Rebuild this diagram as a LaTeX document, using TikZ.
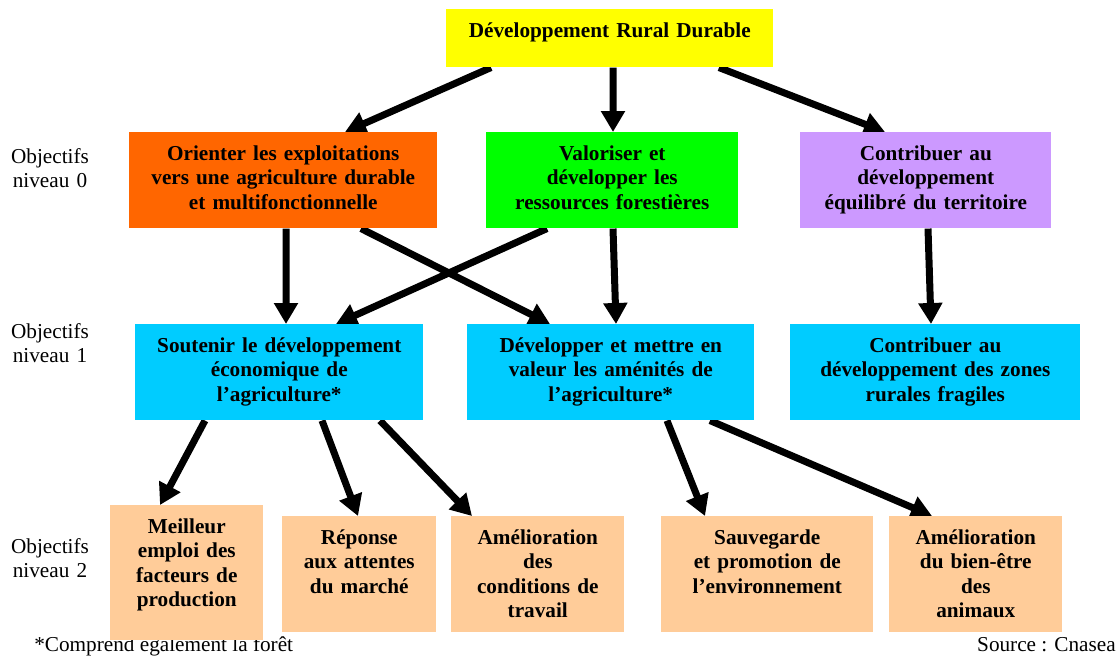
\documentclass[tikz,border=0pt]{standalone}
\usepackage{fontspec}
\setmainfont{Liberation Serif}
\usepackage{xcolor}
\usepackage{tikz}
\usetikzlibrary{arrows.meta, positioning, backgrounds}

\definecolor{cjaune}{HTML}{FFFF00}
\definecolor{corange}{HTML}{FF6600}
\definecolor{cvert}{HTML}{00FF00}
\definecolor{cviolet}{HTML}{CC99FF}
\definecolor{cbleu}{HTML}{00CCFF}
\definecolor{cpeche}{HTML}{FFCC99}

\tikzset{
  objbox/.style={inner sep=0pt, align=center, text height=0.7cm,
    font=\fontsize{15.1}{17.4}\selectfont\bfseries},
  niveau/.style={inner sep=0pt, align=center, text width=2.5cm,
    font=\fontsize{15.1}{17.4}\selectfont},
  fleche/.style={-{Triangle[length=0.525cm,width=0.575cm]}, line width=0.175cm},
}

\begin{document}
\begin{tikzpicture}

\useasboundingbox (0,0) rectangle (27.925,-16.45);
\coordinate(O1) at (0,0);

\node[niveau, anchor=base] (n0) at (1.25,-4.075) {Objectifs\\niveau 0};
\node[niveau, anchor=base] (n1) at (1.25,-8.45) {Objectifs\\niveau 1};
\node[niveau, anchor=base] (n2) at (1.25,-13.825) {Objectifs\\niveau 2};

\node[anchor=base west, inner sep=0pt, font=\fontsize{15.1}{17.4}\selectfont] (note) at (0.85,-16.275) {*Comprend également la forêt};
\node[anchor=base east, inner sep=0pt, font=\fontsize{15.1}{17.4}\selectfont] (source) at (27.9,-16.275) {Source : Cnasea};

\node[objbox, below right=0.225cm and 11.15cm of O1, fill=cjaune, text width=8.175cm, text depth=0.75cm](dev) {Développement Rural Durable};

\node[objbox, below right=3.3cm and 3.225cm of O1, fill=corange, text width=7.7cm, text depth=1.7cm](orient) {Orienter les exploitations\\vers une agriculture durable\\et multifonctionnelle};
\node[objbox, below right=3.3cm and 12.15cm of O1, fill=cvert, text width=6.3cm, text depth=1.7cm](valor) {Valoriser et\\développer les\\ressources forestières};
\node[objbox, below right=3.3cm and 20cm of O1, fill=cviolet, text width=6.275cm, text depth=1.7cm](contrib) {Contribuer au\\développement\\équilibré du territoire};

\node[objbox, below right=8.1cm and 3.375cm of O1, fill=cbleu, text width=7.2cm, text depth=1.7cm](sout) {Soutenir le développement\\économique de\\l’agriculture*};
\node[objbox, below right=8.1cm and 11.675cm of O1, fill=cbleu, text width=7.175cm, text depth=1.7cm](valeur) {Développer et mettre en\\valeur les aménités de\\l’agriculture*};
\node[objbox, below right=8.1cm and 19.75cm of O1, fill=cbleu, text width=7.25cm, text depth=1.7cm](zones) {Contribuer au\\développement des zones\\rurales fragiles};

\node[objbox, below right=12.625cm and 2.75cm of O1, fill=cpeche, text width=3.825cm, text depth=2.675cm](meil) {Meilleur\\emploi des\\facteurs de\\production};
\node[objbox, below right=12.9cm and 7.05cm of O1, fill=cpeche, text width=3.85cm, text depth=2.2cm](rep) {Réponse\\aux attentes\\du marché};
\node[objbox, below right=12.9cm and 11.275cm of O1, fill=cpeche, text width=4.325cm, text depth=2.2cm](amel) {Amélioration\\des\\conditions de\\travail};
\node[objbox, below right=12.9cm and 16.525cm of O1, fill=cpeche, text width=5.3cm, text depth=2.2cm](sauv) {Sauvegarde\\et promotion de\\l’environnement};
\node[objbox, below right=12.9cm and 22.225cm of O1, fill=cpeche, text width=4.325cm, text depth=2.2cm](bien) {Amélioration\\du bien-être\\des\\animaux};

\begin{scope}[on background layer]
\draw[fleche] ([xshift=1.125cm]dev.south west) -- ([xshift=5.4cm]orient.north west);
\draw[fleche] ([xshift=4.175cm]dev.south west) -- ([xshift=3.175cm]valor.north west);
\draw[fleche] ([xshift=6.825cm]dev.south west) -- ([xshift=2.125cm]contrib.north west);
\draw[fleche] ([xshift=3.925cm]orient.south west) -- ([xshift=3.775cm]sout.north west);
\draw[fleche] ([xshift=5.8cm]orient.south west) -- ([xshift=2.075cm]valeur.north west);
\draw[fleche] ([xshift=1.525cm]valor.south west) -- ([xshift=5.025cm]sout.north west);
\draw[fleche] ([xshift=3.175cm]valor.south west) -- ([xshift=3.725cm]valeur.north west);
\draw[fleche] ([xshift=3.2cm]contrib.south west) -- ([xshift=3.525cm]zones.north west);
\draw[fleche] ([xshift=1.75cm]sout.south west) -- ([xshift=1.25cm]meil.north west);
\draw[fleche] ([xshift=4.675cm]sout.south west) -- ([xshift=1.9cm]rep.north west);
\draw[fleche] ([xshift=6.125cm]sout.south west) -- ([xshift=0.525cm]amel.north west);
\draw[fleche] ([xshift=5cm]valeur.south west) -- ([xshift=1.1cm]sauv.north west);
\draw[fleche] ([xshift=6.075cm]valeur.south west) -- ([xshift=1.075cm]bien.north west);
\end{scope}
\end{tikzpicture}
\end{document}
